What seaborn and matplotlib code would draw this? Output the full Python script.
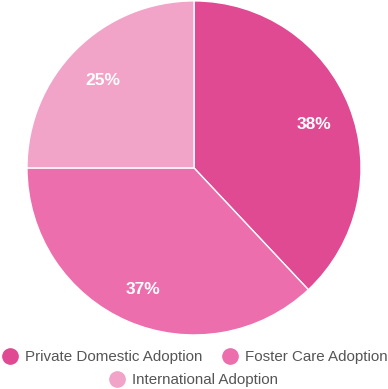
import matplotlib
matplotlib.use("Agg")
import matplotlib.pyplot as plt
import matplotlib.transforms as mtransforms
from matplotlib.lines import Line2D
import seaborn as sns

categories = ["Private Domestic Adoption", "Foster Care Adoption", "International Adoption"]
shares = [38, 37, 25]
colors = ["#df4a93", "#ec6ead", "#f2a3c8"]

sns.set_theme(style="white")
plt.rcParams["font.family"] = ["Liberation Sans", "DejaVu Sans"]
palette = sns.color_palette(colors)

fig = plt.figure(figsize=(3.88, 3.89), dpi=100)
ax = fig.add_axes([0.0695, 0.1388, 0.861, 0.859])

wedges, texts, autotexts = ax.pie(
    shares,
    colors=palette,
    startangle=90,
    counterclock=False,
    autopct="%d%%",
    pctdistance=0.77,
    wedgeprops=dict(edgecolor="white", linewidth=1),
    textprops=dict(color="white", fontsize=12.5, fontweight="bold"),
)
ax.set_xlim(-1, 1)
ax.set_ylim(-1, 1)
ax.set_aspect("equal")

# nudge the percent labels down a few pixels
shift = mtransforms.offset_copy(ax.transData, fig=fig, x=0, y=-3.5, units="dots")
for t in autotexts:
    t.set_transform(shift)

def handle(c):
    return Line2D([], [], marker="o", linestyle="", markersize=11,
                  markerfacecolor=c, markeredgecolor=c)

leg_kw = dict(frameon=False, fontsize=10.9, labelcolor="#555555",
              handletextpad=0.5, columnspacing=1.3, handlelength=1.0,
              borderaxespad=0, borderpad=0)
fig.legend([handle(palette[0]), handle(palette[1])], categories[:2], ncol=2,
           loc="center", bbox_to_anchor=(0.503, 1 - 357 / 389), **leg_kw)
fig.legend([handle(palette[2])], categories[2:], ncol=1,
           loc="center", bbox_to_anchor=(0.5, 1 - 380 / 389), **leg_kw)

fig.savefig("out.png", dpi=100)
plt.close(fig)
